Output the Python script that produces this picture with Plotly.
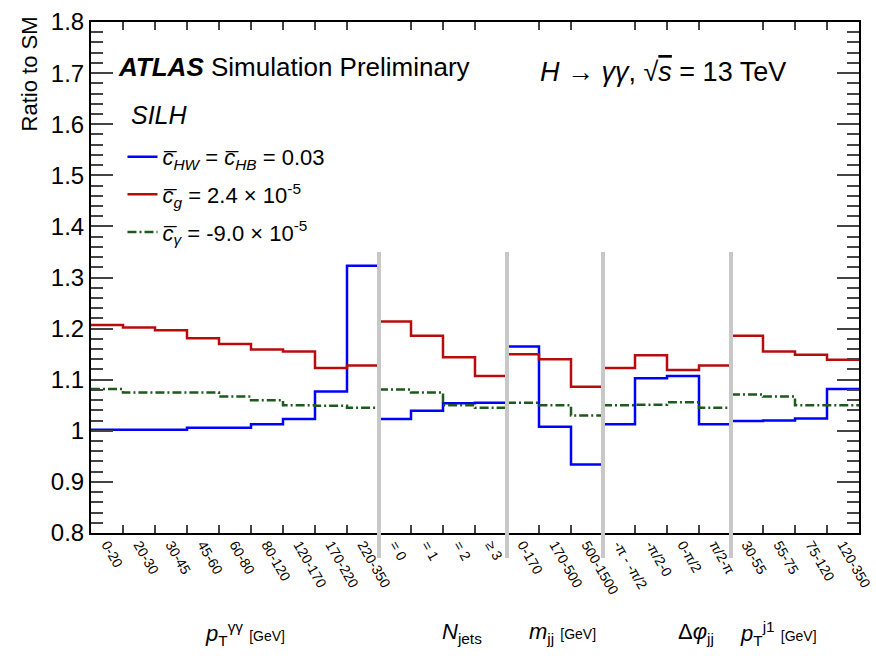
import plotly.graph_objects as go

# ---------------- data ----------------
bin_labels = ["0-20", "20-30", "30-45", "45-60", "60-80", "80-120", "120-170", "170-220", "220-350",
              "= 0", "= 1", "= 2", "≥ 3",
              "0-170", "170-500", "500-1500",
              "-π - -π/2", "-π/2-0", "0-π/2", "π/2-π",
              "30-55", "55-75", "75-120", "120-350"]
group_sizes = [9, 4, 3, 4, 4]
group_titles = ["<i>p</i><sub>T</sub><sup>γγ</sup> <span style='font-size:14px'>[GeV]</span>",
                "<i>N</i><sub>jets</sub>",
                "<i>m</i><sub>jj</sub> <span style='font-size:14px'>[GeV]</span>",
                "Δ<i>φ</i><sub>jj</sub>",
                "<i>p</i><sub>T</sub><sup>j1</sup> <span style='font-size:14px'>[GeV]</span>"]

ratio_chw = [1.002, 1.002, 1.002, 1.006, 1.006, 1.013, 1.023, 1.077, 1.323,
             1.023, 1.039, 1.054, 1.055,
             1.165, 1.008, 0.934,
             1.013, 1.103, 1.107, 1.013,
             1.019, 1.020, 1.024, 1.082]
ratio_cg = [1.207, 1.202, 1.197, 1.181, 1.170, 1.159, 1.155, 1.123, 1.128,
            1.214, 1.186, 1.144, 1.107,
            1.150, 1.140, 1.086,
            1.123, 1.148, 1.119, 1.128,
            1.186, 1.155, 1.149, 1.139]
ratio_cgamma = [1.082, 1.075, 1.075, 1.075, 1.067, 1.060, 1.050, 1.049, 1.045,
                1.081, 1.075, 1.050, 1.045,
                1.055, 1.050, 1.030,
                1.050, 1.051, 1.056, 1.045,
                1.071, 1.067, 1.050, 1.050]

y_ticks = [0.8, 0.9, 1.0, 1.1, 1.2, 1.3, 1.4, 1.5, 1.6, 1.7, 1.8]
y_tick_labels = ["0.8", "0.9", "1", "1.1", "1.2", "1.3", "1.4", "1.5", "1.6", "1.7", "1.8"]

series = [
    (ratio_chw, "#0000ff", "solid",
     "<i>c̅</i><sub><i>HW</i></sub> = <i>c̅</i><sub><i>HB</i></sub> = 0.03"),
    (ratio_cg, "#b80c0c", "solid",
     "<i>c̅</i><sub><i>g</i></sub> = 2.4 × 10<sup>-5</sup>"),
    (ratio_cgamma, "#1e5a1e", "9px,3px,2px,3px",
     "<i>c̅</i><sub><i>γ</i></sub> = -9.0 × 10<sup>-5</sup>"),
]

# region boundaries (bin index)
bounds = [0]
for s in group_sizes:
    bounds.append(bounds[-1] + s)
nbins = bounds[-1]


def step_xy(values):
    xs, ys = [], []
    for a, b in zip(bounds[:-1], bounds[1:]):
        for i in range(a, b):
            xs.append(i)
            ys.append(values[i])
        xs.append(b)
        ys.append(values[b - 1])
        xs.append(None)
        ys.append(None)
    return xs, ys


fig = go.Figure()
for k, (vals, col, dash, name) in enumerate(series):
    xs, ys = step_xy(vals)
    fig.add_trace(go.Scatter(x=xs, y=ys, mode="lines", line_shape="hv",
                             line=dict(color=col, width=2.5, dash=dash),
                             name=name, legendgroup="g%d" % k))

inner_edges = [i for i in range(1, nbins) if i not in bounds]
fig.add_trace(go.Scatter(x=[0, nbins], y=[None, None], xaxis="x2", showlegend=False,
                         hoverinfo="skip"))

# separators between observables
for b in bounds[1:-1]:
    fig.add_shape(type="line", xref="paper", yref="paper",
                  x0=b / nbins, x1=b / nbins, y0=-0.049, y1=0.55,
                  line=dict(color="#c8c8c8", width=4), layer="above")

fig.update_layout(
    width=876, height=656,
    margin=dict(l=91, r=17, t=22, b=123),
    plot_bgcolor="white", paper_bgcolor="white",
    font=dict(family="Liberation Sans", color="black"),
    showlegend=True,
    legend=dict(x=0.041, y=0.777, xanchor="left", yanchor="top",
                bgcolor="rgba(0,0,0,0)", font=dict(size=22),
                tracegroupgap=6, itemwidth=30),
    xaxis=dict(range=[0, nbins], tickvals=[i + 0.5 for i in range(nbins)],
               ticktext=bin_labels, tickangle=60, ticks="",
               tickfont=dict(size=14), showgrid=False, zeroline=False,
               showline=False, automargin=False),
    xaxis2=dict(range=[0, nbins], overlaying="x", anchor="y", side="bottom",
                tickvals=inner_edges, ticks="inside", ticklen=8, tickwidth=1.5,
                showticklabels=False, showgrid=False, zeroline=False,
                showline=True, linecolor="black", linewidth=2, mirror="ticks",
                automargin=False),
    yaxis=dict(range=[0.8, 1.8], tickvals=y_ticks, ticktext=y_tick_labels,
               ticks="inside", ticklen=22, tickwidth=1.5, tickfont=dict(size=24),
               minor=dict(dtick=0.02, ticks="inside", ticklen=12, tickwidth=1.5),
               showgrid=False, zeroline=False, showline=True, linecolor="black",
               linewidth=2, mirror="ticks", automargin=False),
)

ann = []
ann.append(dict(text="Ratio to SM", textangle=-90, xref="paper", yref="paper",
                x=-0.08, y=1.015, xanchor="center", yanchor="top",
                showarrow=False, font=dict(size=22)))
ann.append(dict(text="<b><i>ATLAS</i></b> Simulation Preliminary", xref="paper", yref="paper",
                x=(116 - 91) / 768, y=(533 - 67) / 511, xanchor="left", yanchor="middle",
                showarrow=False, font=dict(size=26)))
ann.append(dict(text="<i>SILH</i>", xref="paper", yref="paper",
                x=(129 - 91) / 768, y=(533 - 115) / 511, xanchor="left", yanchor="middle",
                showarrow=False, font=dict(size=25)))
ann.append(dict(text="<i>H</i> → <i>γγ</i>, √<span style='text-decoration:overline'><i>s</i></span> = 13 TeV",
                xref="paper", yref="paper",
                x=(538 - 91) / 768, y=(533 - 72) / 511, xanchor="left", yanchor="middle",
                showarrow=False, font=dict(size=27)))
title_px = [203, 440, 527, 676, 738]
for t, px in zip(group_titles, title_px):
    ann.append(dict(text=t, xref="paper", yref="paper", x=(px - 91) / 768,
                    y=(533 - 633) / 511, xanchor="left", yanchor="middle",
                    showarrow=False, font=dict(size=22)))
fig.update_layout(annotations=ann)

fig.write_html("out.html", config={"displayModeBar": False},
               post_script="document.body.style.margin='0';")
